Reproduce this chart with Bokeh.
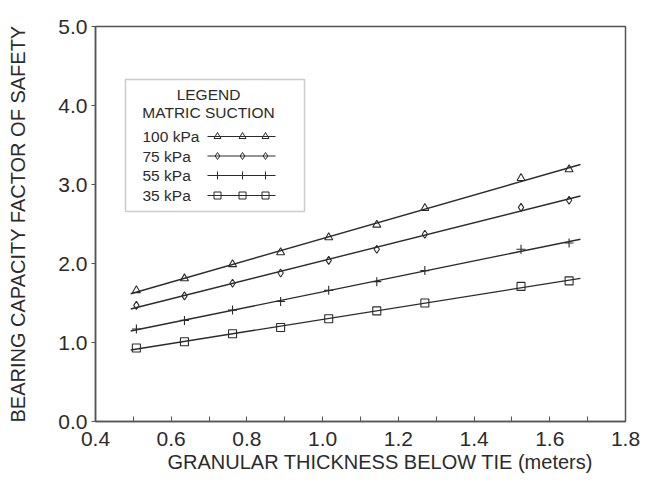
import numpy as np
from bokeh.plotting import figure
from bokeh.models import Range1d, FixedTicker, Label, BoxAnnotation, Title
from bokeh.embed import file_html
from bokeh.resources import INLINE

# ---- data ----
thickness = [0.508, 0.635, 0.762, 0.889, 1.016, 1.143, 1.270, 1.524, 1.651]
fs_100 = [1.66, 1.81, 1.99, 2.14, 2.33, 2.49, 2.70, 3.08, 3.19]
fs_75 = [1.47, 1.59, 1.75, 1.88, 2.04, 2.18, 2.37, 2.71, 2.80]
fs_55 = [1.17, 1.28, 1.41, 1.52, 1.66, 1.77, 1.91, 2.18, 2.26]
fs_35 = [0.93, 1.01, 1.11, 1.19, 1.30, 1.40, 1.50, 1.71, 1.78]
series_labels = ["100 kPa", "75 kPa", "55 kPa", "35 kPa"]
x_ticks = [0.4, 0.6, 0.8, 1.0, 1.2, 1.4, 1.6, 1.8]
y_ticks = [0.0, 1.0, 2.0, 3.0, 4.0, 5.0]
x_title = "GRANULAR THICKNESS BELOW TIE (meters)"
y_title = "BEARING CAPACITY FACTOR OF SAFETY"

FONT = "Liberation Sans"
INK = "#2b2b2b"

BL, BT, BR, BB = 95, 26, 18, 62
FW, FH = 530, 395
p = figure(width=BL + FW + BR, height=BT + FH + BB, output_backend="svg",
           toolbar_location=None,
           x_range=Range1d(0.4, 1.8), y_range=Range1d(0.0, 5.0),
           min_border_left=BL, min_border_top=BT, min_border_right=BR,
           min_border_bottom=BB)
p.xgrid.visible = False
p.ygrid.visible = False
p.outline_line_color = "#555555"
p.outline_line_width = 1.5
p.background_fill_color = "white"
p.border_fill_color = "white"

p.xaxis.ticker = FixedTicker(ticks=x_ticks, minor_ticks=list(np.round(np.arange(0.5, 1.8, 0.2), 2)))
p.yaxis.ticker = FixedTicker(ticks=y_ticks)
p.xaxis.major_label_overrides = {t: f"{t:.1f}" for t in x_ticks}
p.yaxis.major_label_overrides = {t: f"{t:.1f}" for t in y_ticks}
for ax in (p.xaxis, p.yaxis):
    ax.axis_line_color = "#555555"
    ax.axis_line_width = 1.5
    ax.major_tick_line_color = "#555555"
    ax.minor_tick_line_color = "#555555"
    ax.major_label_text_font = FONT
    ax.major_label_text_font_size = "21px"
    ax.major_label_text_color = INK
    ax.axis_label_text_font = FONT
    ax.axis_label_text_font_size = "20px"
    ax.axis_label_text_font_style = "normal"
    ax.axis_label_text_color = INK
p.xaxis.major_tick_in = 5
p.xaxis.major_tick_out = 0
p.xaxis.minor_tick_in = 5
p.xaxis.minor_tick_out = 0
p.yaxis.major_tick_in = 0
p.yaxis.major_tick_out = 4
p.yaxis.minor_tick_line_color = None
p.xaxis.major_label_standoff = 10
p.yaxis.major_label_standoff = 4
p.yaxis.axis_label = y_title
p.yaxis.axis_label_standoff = 26

# x axis title, set a little right of centre as in the original
p.add_layout(Title(text=x_title, align="left", offset=72, standoff=0,
                   text_font=FONT, text_font_size="20px", text_font_style="normal",
                   text_color=INK), "below")

markers = ["triangle", "diamond", "cross", "square"]
sizes = [8, 8, 9, 8]
all_series = [fs_100, fs_75, fs_55, fs_35]

xs = np.array(thickness)
for ys, mk, sz in zip(all_series, markers, sizes):
    k, b = np.polyfit(xs, np.array(ys), 1)
    lx = np.array([xs.min() - 0.015, xs.max() + 0.03])
    p.line(lx, k * lx + b, line_color=INK, line_width=1.4)
    p.scatter(xs, ys, marker=mk, size=sz, fill_color="white", fill_alpha=0.0,
              line_color=INK, line_width=1.1)

# ---- legend (drawn manually; positions in page pixels of the reference) ----
FL, FT = 96, 27


def px_x(px):
    return 0.4 + (px - FL) / FW * 1.4


def px_y(py):
    return 5.0 - (py - FT) / FH * 5.0


p.add_layout(BoxAnnotation(left=px_x(126), right=px_x(305), top=px_y(80), bottom=px_y(212),
                           fill_color="white", fill_alpha=1.0, line_color="#555555",
                           line_width=1.5, level="underlay"))
LEG_FS = "15.5px"
p.add_layout(Label(x=px_x(209), y=px_y(95), text="LEGEND", text_align="center",
                   text_baseline="middle", text_font=FONT, text_font_size=LEG_FS,
                   text_color=INK))
p.add_layout(Label(x=px_x(209), y=px_y(113), text="MATRIC SUCTION", text_align="center",
                   text_baseline="middle", text_font=FONT, text_font_size=LEG_FS,
                   text_color=INK))
row_py = [137, 156.5, 176, 196]
for lab, mk, sz, py in zip(series_labels, markers, sizes, row_py):
    p.add_layout(Label(x=px_x(143), y=px_y(py), text=lab, text_align="left",
                       text_baseline="middle", text_font=FONT, text_font_size=LEG_FS,
                       text_color=INK))
    p.line([px_x(208), px_x(276)], [px_y(py), px_y(py)], line_color=INK, line_width=1.1)
    p.scatter([px_x(218), px_x(243), px_x(266)], [px_y(py)] * 3, marker=mk, size=sz - 1,
              fill_color="white", fill_alpha=0.0, line_color=INK, line_width=1.0)

open("out.html", "w").write(file_html(p, INLINE))
